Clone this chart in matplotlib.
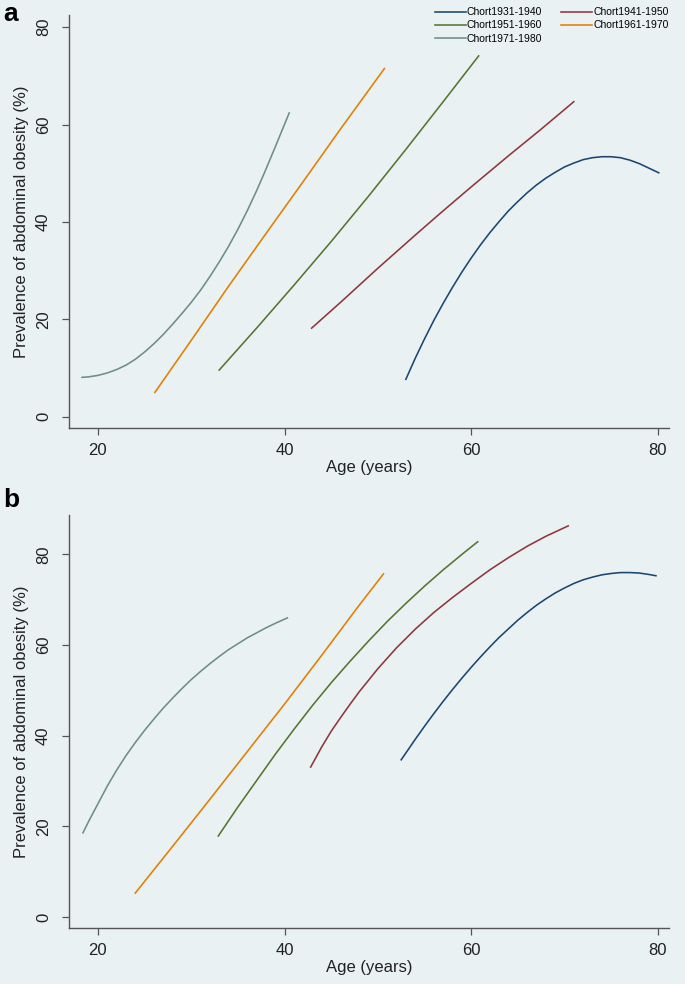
import numpy as np
import matplotlib
matplotlib.use('Agg')
import matplotlib.pyplot as plt

plt.rcParams['font.family'] = ['Liberation Sans', 'DejaVu Sans']

# cohort labels / colours (Stata s2color)
cohorts = ['Chort1931-1940', 'Chort1941-1950', 'Chort1951-1960', 'Chort1961-1970', 'Chort1971-1980']
colors = ['#1a476f', '#90353b', '#55752f', '#e37e00', '#6e8e84']

# ---- panel a: values (age, prevalence %)
a_age_1931 = [53, 54, 55, 56, 57, 58, 59, 60, 61, 62, 63, 64, 65, 66, 67, 68, 69, 70,
              71, 72, 73, 74, 75, 76, 77, 78, 79, 80.1]
a_prev_1931 = [7.7, 12.0, 16.0, 19.8, 23.3, 26.6, 29.7, 32.6, 35.3, 37.8, 40.1, 42.3, 44.2, 46.0,
               47.6, 49.0, 50.2, 51.3, 52.1, 52.8, 53.2, 53.4, 53.4, 53.2, 52.7, 52.0, 51.1, 50.1]
a_age_1941 = [42.9, 46, 50, 54, 57, 60, 64, 67.4, 71]
a_prev_1941 = [18.2, 23.5, 30.5, 37.3, 42.3, 47.2, 53.6, 58.9, 64.7]
a_age_1951 = [33, 37, 41, 45, 49, 53, 57, 60.8]
a_prev_1951 = [9.6, 18.2, 27.0, 36.0, 45.3, 54.9, 64.7, 74.1]
a_age_1961 = [26.1, 30, 34, 38, 42, 46, 50.7]
a_prev_1961 = [5.0, 15.7, 26.8, 37.6, 48.3, 59.1, 71.5]
a_age_1971 = [18.3, 19, 20, 21, 22, 23, 24, 25, 26, 27, 28, 29, 30, 31, 32, 33, 34, 35,
              36, 37, 38, 39, 40.5]
a_prev_1971 = [8.1, 8.2, 8.5, 9.0, 9.7, 10.6, 11.8, 13.3, 15.0, 16.9, 19.0, 21.2, 23.5, 26.0,
               28.8, 31.8, 35.0, 38.5, 42.3, 46.4, 50.8, 55.4, 62.4]

# ---- panel b
b_age_1931 = [52.5, 53, 54, 55, 56, 57, 58, 59, 60, 61, 62, 63, 64, 65, 66, 67, 68, 69, 70,
              71, 72, 73, 74, 75, 76, 77, 78, 79, 79.8]
b_prev_1931 = [34.7, 36.2, 39.2, 42.1, 44.9, 47.6, 50.2, 52.7, 55.1, 57.4, 59.6, 61.7, 63.6, 65.5,
               67.2, 68.8, 70.2, 71.5, 72.6, 73.6, 74.4, 75.0, 75.5, 75.8, 76.0, 76.0, 75.9, 75.6, 75.3]
b_age_1941 = [42.8, 44, 45, 46, 47, 48, 50, 52, 54, 56, 58, 60, 62, 64, 66, 68, 70.4]
b_prev_1941 = [33.1, 37.6, 41.0, 44.0, 46.9, 49.7, 54.8, 59.4, 63.5, 67.2, 70.5, 73.6, 76.6,
               79.3, 81.8, 84.0, 86.3]
b_age_1951 = [32.9, 35, 37, 39, 41, 43, 45, 47, 49, 51, 53, 55, 57, 59, 60.7]
b_prev_1951 = [17.9, 24.3, 30.1, 35.9, 41.4, 46.7, 51.7, 56.4, 60.9, 65.2, 69.2, 73.0, 76.6, 80.0, 82.8]
b_age_1961 = [24, 28, 32, 36, 40, 44, 48, 50.6]
b_prev_1961 = [5.3, 15.6, 26.0, 36.5, 47.0, 57.8, 68.8, 75.7]
b_age_1971 = [18.4, 19, 20, 21, 22, 23, 24, 25, 26, 27, 28, 29, 30, 31, 32, 33, 34, 35, 36,
              37, 38, 39, 40.3]
b_prev_1971 = [18.6, 21.1, 25.0, 28.9, 32.4, 35.6, 38.5, 41.2, 43.7, 46.1, 48.3, 50.4, 52.4,
               54.2, 55.9, 57.5, 59.0, 60.3, 61.6, 62.7, 63.8, 64.8, 66.0]

x_ticks = [20, 40, 60, 80]
y_ticks = [0, 20, 40, 60, 80]

bg = '#e9f1f3'
fig = plt.figure(figsize=(6.85, 9.84), dpi=100, facecolor=bg)

W, H = 685.0, 984.0
ax_a = fig.add_axes([69 / W, 1 - 428 / H, 600 / W, 413 / H])
ax_b = fig.add_axes([69 / W, 1 - 928 / H, 600 / W, 413 / H])

panels = [
    (ax_a, [(a_age_1931, a_prev_1931), (a_age_1941, a_prev_1941), (a_age_1951, a_prev_1951),
            (a_age_1961, a_prev_1961), (a_age_1971, a_prev_1971)], (-2.3, 82.5)),
    (ax_b, [(b_age_1931, b_prev_1931), (b_age_1941, b_prev_1941), (b_age_1951, b_prev_1951),
            (b_age_1961, b_prev_1961), (b_age_1971, b_prev_1971)], (-2.4, 88.7)),
]

handles = []
for ax, series, ylim in panels:
    ax.set_facecolor(bg)
    for (x, y), c, lab in zip(series, colors, cohorts):
        ln, = ax.plot(x, y, color=c, lw=1.15, label=lab, solid_joinstyle='round')
        if ax is ax_a:
            handles.append(ln)
    ax.set_xlim(16.9, 81.2)
    ax.set_ylim(*ylim)
    ax.set_xticks(x_ticks)
    ax.set_yticks(y_ticks)
    for s in ['top', 'right']:
        ax.spines[s].set_visible(False)
    for s in ['left', 'bottom']:
        ax.spines[s].set_color('#555555')
        ax.spines[s].set_linewidth(1.0)
    ax.tick_params(axis='both', direction='out', length=5, width=0.9, color='#555555',
                   labelsize=12, labelcolor='#222222')
    ax.tick_params(axis='y', labelrotation=90, pad=8)
    ax.tick_params(axis='x', pad=6)
    for t in ax.get_yticklabels():
        t.set_va('center')
    ax.set_xlabel('Age (years)', fontsize=12, color='#222222', labelpad=1.5)
    ax.set_ylabel('Prevalence of abdominal obesity (%)', fontsize=12, color='#222222', labelpad=5)

# legend in two columns, row order like Stata
order = [0, 2, 4, 1, 3]
fig.legend([handles[i] for i in order], [cohorts[i] for i in order], ncol=2,
           loc='upper right', bbox_to_anchor=(675 / W, 1 - 1 / H), frameon=False,
           fontsize=7.5, handlelength=3.0, handletextpad=0.1, columnspacing=1.8,
           labelspacing=0.3, borderpad=0.1)

fig.text(3 / W, 1 - 2 / H, 'a', fontsize=19, fontweight='bold', va='top', ha='left')
fig.text(3 / W, 1 - 488 / H, 'b', fontsize=19, fontweight='bold', va='top', ha='left')

fig.savefig('out.png', dpi=100, facecolor=bg)
